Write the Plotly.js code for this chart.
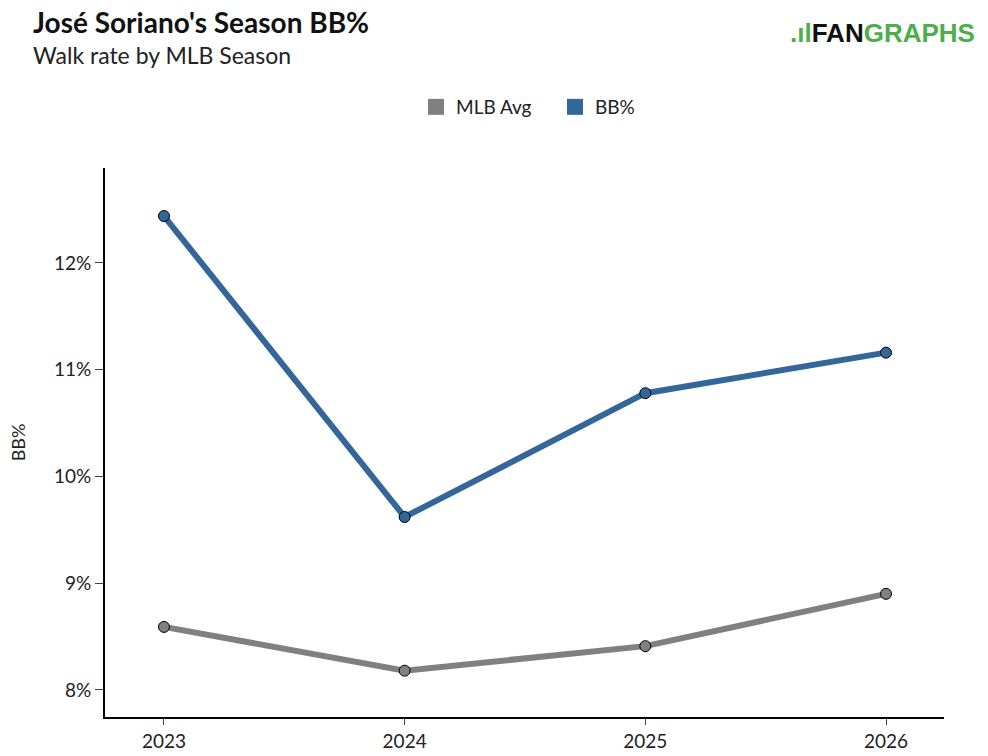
<!DOCTYPE html>
<html>
<head>
<meta charset="utf-8">
<script src="https://cdn.plot.ly/plotly-3.0.1.min.js"></script>
<style>
  html, body { margin: 0; padding: 0; background: #fff; }
  #chart { width: 988px; height: 756px; }
</style>
</head>
<body>
<div id="chart"></div>
<script>
// season data
const seasons = [2023, 2024, 2025, 2026];
const bb_pct = [12.44, 9.62, 10.78, 11.16];
const mlb_avg = [8.59, 8.18, 8.41, 8.90];
const y_ticks = [8, 9, 10, 11, 12];
const y_tick_labels = y_ticks.map(v => v + "%");

const blue = "#336699";
const grey = "#808080";
const font_family = "Lato, 'Open Sans', sans-serif";

const line_trace = (name, ys, color) => ({
    type: "scatter",
    mode: "lines+markers",
    x: seasons,
    y: ys,
    name: name,
    showlegend: false,
    hoverinfo: "x+y",
    line: {color: color, width: 6},
    marker: {color: color, size: 11, line: {color: "#000", width: 1}}
});

// legend-only entries so the key shows squares
const legend_trace = (name, color) => ({
    type: "scatter",
    mode: "markers",
    x: [null],
    y: [null],
    name: name,
    showlegend: true,
    marker: {symbol: "square", color: color, size: 19}
});

const data = [
    line_trace("MLB Avg", mlb_avg, grey),
    line_trace("BB%", bb_pct, blue),
    legend_trace("MLB Avg", grey),
    legend_trace("BB%", blue)
];

const layout = {
    width: 988,
    height: 756,
    margin: {l: 105, r: 44, t: 168, b: 39},
    paper_bgcolor: "#fff",
    plot_bgcolor: "#fff",
    font: {family: font_family, size: 19, color: "#222"},
    title: {
        text: "<b>José Soriano's Season BB%</b>",
        font: {family: font_family, size: 28, color: "#111"},
        xref: "container", yref: "container",
        x: 33 / 988, xanchor: "left",
        y: 1 - 23 / 756, yanchor: "middle"
    },
    annotations: [
        {
            text: "Walk rate by MLB Season",
            xref: "paper", yref: "paper",
            x: (31 - 105) / 839, xanchor: "left",
            y: 1 + (168 - 55) / 549, yanchor: "middle",
            showarrow: false,
            font: {family: font_family, size: 23, color: "#222"}
        },
        {
            text: "<b><span style='color:#4cae4c'>.ıl</span>FAN<span style='color:#4cae4c'>GRAPHS</span></b>",
            xref: "paper", yref: "paper",
            x: 1 + (977 - 944) / 839, xanchor: "right",
            y: 1 + (168 - 33) / 549, yanchor: "middle",
            showarrow: false,
            font: {family: "'Liberation Sans', Arial, sans-serif", size: 26, color: "#111"}
        }
    ],
    legend: {
        orientation: "h",
        x: (416 - 105) / 839, xanchor: "left",
        y: 1 + (168 - 107) / 549, yanchor: "middle",
        font: {family: font_family, size: 19, color: "#222"},
        itemwidth: 30,
        entrywidth: 94,
        entrywidthmode: "pixels",
        traceorder: "normal"
    },
    xaxis: {
        range: [2022.755, 2026.241],
        tickvals: seasons,
        ticktext: seasons.map(String),
        showgrid: false,
        zeroline: false,
        showline: true,
        linecolor: "#000",
        linewidth: 2,
        ticks: "outside",
        ticklen: 6,
        tickcolor: "#444",
        tickfont: {size: 19, color: "#222"}
    },
    yaxis: {
        title: {text: "BB%", font: {size: 18, color: "#222"}, standoff: 24},
        range: [7.746, 12.89],
        tickvals: y_ticks,
        ticktext: y_tick_labels,
        showgrid: false,
        zeroline: false,
        showline: true,
        linecolor: "#000",
        linewidth: 2,
        ticks: "outside",
        ticklen: 8,
        tickcolor: "#444",
        tickfont: {size: 19, color: "#222"}
    }
};

Plotly.newPlot("chart", data, layout, {displayModeBar: false, staticPlot: true});
</script>
</body>
</html>
